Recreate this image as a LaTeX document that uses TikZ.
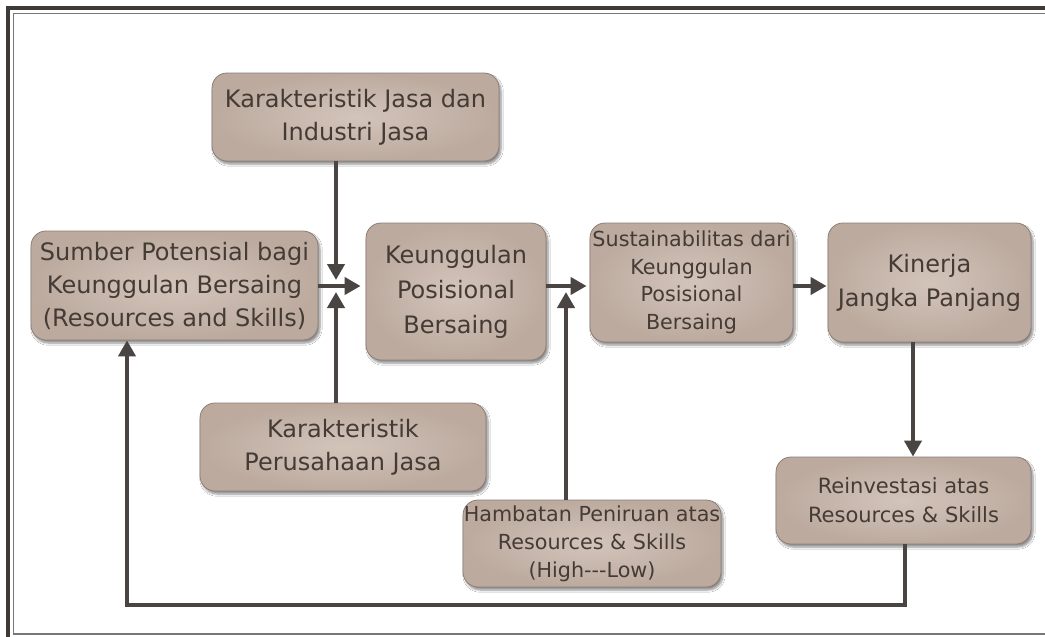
\documentclass[tikz,border=0pt]{standalone}
\usepackage{fontspec}
\setmainfont{DejaVu Sans}
\usetikzlibrary{arrows.meta,shadows.blur,calc}

\definecolor{boxin}{HTML}{D3C4BA}
\definecolor{boxout}{HTML}{BCAA9E}
\definecolor{boxline}{HTML}{8C7D74}
\definecolor{boxtext}{HTML}{453B35}
\definecolor{linkcol}{HTML}{4A4442}
\definecolor{framedark}{HTML}{3F3A37}
\definecolor{framelight}{HTML}{7A7674}

\tikzset{
  card/.style={draw=boxline, line width=0.8pt, rounded corners=15pt,
    shading=radial, inner color=boxin, outer color=boxout,
    blur shadow={shadow xshift=2pt, shadow yshift=-3pt,
      shadow blur steps=6, shadow opacity=45},
    text=boxtext, align=center, inner sep=0pt, anchor=center},
  bigtext/.style={font=\fontsize{24}{33}\selectfont},
  smalltext/.style={font=\fontsize{20.7}{27.5}\selectfont},
  link/.style={draw=linkcol, line width=4pt},
  tip/.style={-{Triangle[length=16pt,width=17pt]}},
}

\begin{document}
\begin{tikzpicture}[x=1pt,y=-1pt]
  \useasboundingbox (0,0) rectangle (1045,637);
  \fill[white] (0,0) rectangle (1045,637);

  % double frame, open on the right
  \draw[framedark, line width=4pt] (8,637) -- (8,8) -- (1045,8);
  \draw[framelight, line width=1.6pt] (1045,634) -- (13.5,634) -- (13.5,13.5) -- (1045,13.5);

  % boxes
  \node[card, bigtext, minimum width=287pt, minimum height=88pt] (b1) at (355.5,117)
    {Karakteristik Jasa dan\\Industri Jasa};
  \node[card, bigtext, minimum width=287pt, minimum height=109pt] (b2) at (174.5,285.5)
    {Sumber Potensial bagi\\Keunggulan Bersaing\\(Resources and Skills)};
  \node[card, font=\fontsize{24}{35}\selectfont, minimum width=180pt, minimum height=137pt] (b3) at (456,291.5)
    {Keunggulan\\Posisional\\Bersaing};
  \node[card, smalltext, minimum width=203pt, minimum height=119pt] (b4) at (691.5,282.5)
    {Sustainabilitas dari\\Keunggulan\\Posisional\\Bersaing};
  \node[card, font=\fontsize{24}{34}\selectfont, minimum width=203pt, minimum height=119pt] (b5) at (929.5,282.5)
    {Kinerja\\Jangka Panjang};
  \node[card, bigtext, minimum width=286pt, minimum height=88pt] (b6) at (343,447)
    {Karakteristik\\Perusahaan Jasa};
  \node[card, font=\fontsize{20.7}{28}\selectfont, minimum width=258pt, minimum height=87pt] (b7) at (592,543.5)
    {Hambatan Peniruan atas\\Resources \& Skills\\(High{-}{-}{-}Low)};
  \node[card, font=\fontsize{21}{29}\selectfont, minimum width=255pt, minimum height=87pt] (b8) at (903.5,500.5)
    {Reinvestasi atas\\Resources \& Skills};

  % junction points on the main flow line
  \coordinate (flow) at (0,286);
  \coordinate (j1) at (336,286);
  \coordinate (j2) at (566,286);
  \coordinate (fbR) at (905,605);
  \coordinate (fbL) at (127,605);

  % main flow
  \draw[link, tip, shorten >=5pt] (b2.east |- flow) -- (b3.west |- flow);
  \draw[link, tip, shorten >=3pt] (b3.east |- flow) -- (b4.west |- flow);
  \draw[link, tip, shorten >=1pt] (b4.east |- flow) -- (b5.west |- flow);

  % influences meeting the flow
  \draw[link, tip] (j1 |- b1.south) -- ($(j1)+(0,-6)$);
  \draw[link, tip] (j1 |- b6.north) -- ($(j1)+(0,6)$);
  \draw[link, tip] (j2 |- b7.north) -- ($(j2)+(0,6)$);

  % performance and reinvestment loop
  \draw[link, tip] (b5.south -| 913,0) -- (b8.north -| 913,0);
  \draw[link, tip, line join=miter] (b8.south -| fbR) -- (fbR) -- (fbL) -- (fbL |- b2.south);
\end{tikzpicture}
\end{document}
